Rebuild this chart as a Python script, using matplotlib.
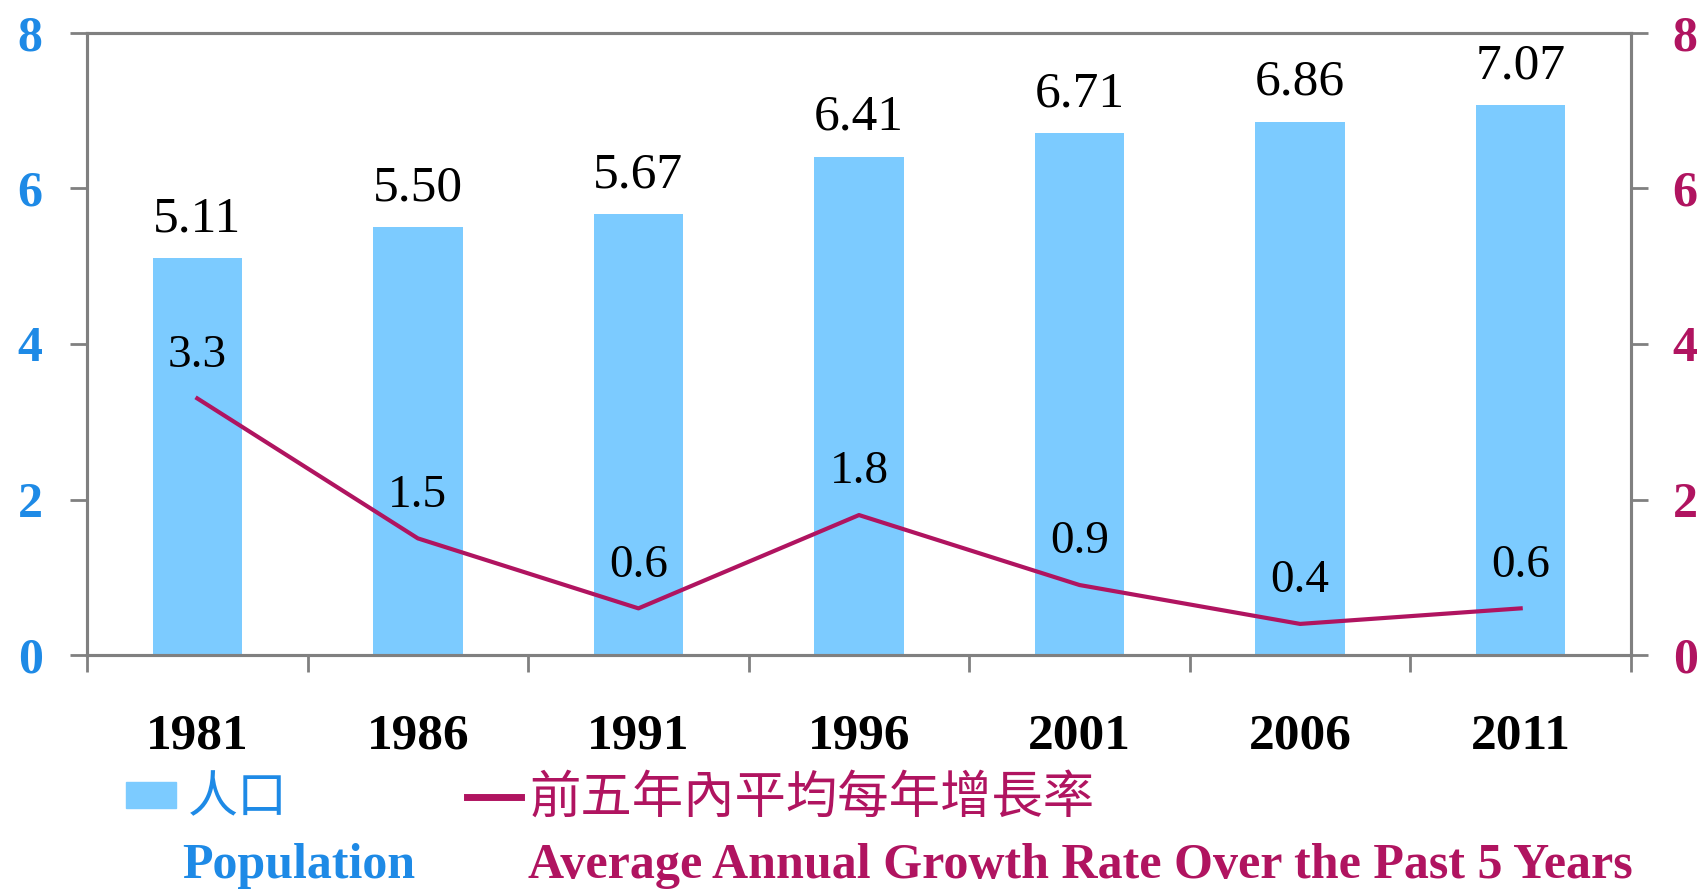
import numpy as np
import matplotlib.pyplot as plt
from matplotlib.patches import Rectangle
from matplotlib.lines import Line2D

years = ['1981', '1986', '1991', '1996', '2001', '2006', '2011']
population = [5.11, 5.50, 5.67, 6.41, 6.71, 6.86, 7.07]
growth = [3.3, 1.5, 0.6, 1.8, 0.9, 0.4, 0.6]
yticks = [0, 2, 4, 6, 8]

bar_col = '#7CCBFF'
line_col = '#B01460'
blue_txt = '#1E8AE6'
grey = '#808080'
serif = ['Liberation Serif', 'DejaVu Serif']
cjk = ['Noto Sans CJK TC', 'DejaVu Sans']

fig = plt.figure(figsize=(17.03, 8.89), dpi=100)
ax = fig.add_axes([0.0511, 0.2632, 0.9066, 0.6997])
ax2 = ax.twinx()

x = np.arange(len(years))
bars = ax.bar(x, population, width=0.405, color=bar_col, zorder=2)
ax2.plot(x, growth, color=line_col, lw=3, zorder=3)

for xi, v in zip(x, population):
    ax.annotate(f'{v:.2f}', (xi, v), xytext=(0, 28), textcoords='offset points',
                ha='center', va='center', fontsize=37, family=serif, color='black')
for xi, v in zip(x, growth):
    ax2.annotate(f'{v:.1f}', (xi, v), xytext=(0, 31), textcoords='offset points',
                 ha='center', va='center', fontsize=34, family=serif, color='black')

ax.set_xlim(-0.5, len(years) - 0.5)
ax.set_ylim(0, 8)
ax2.set_ylim(0, 8)
ax.set_yticks(yticks)
ax2.set_yticks(yticks)
ax.set_yticklabels([str(t) for t in yticks], fontsize=36, family=serif,
                   fontweight='bold', color=blue_txt)
ax2.set_yticklabels([str(t) for t in yticks], fontsize=36, family=serif,
                    fontweight='bold', color=line_col)

ax.set_xticks(x)
ax.set_xticklabels(years, fontsize=37, family=serif, fontweight='bold')
ax.set_xticks(np.arange(-0.5, len(years)), minor=True)
ax.tick_params(axis='x', which='major', length=0, pad=42)
ax.tick_params(axis='x', which='minor', length=12, width=2, color=grey, direction='out')
ax.tick_params(axis='y', length=12, width=2, color=grey, direction='out', pad=20)
ax2.tick_params(axis='y', length=12, width=2, color=grey, direction='out', pad=18)

for a in (ax, ax2):
    for s in a.spines.values():
        s.set_color(grey)
        s.set_linewidth(2.2)

# legend
fig.patches.append(Rectangle((126 / 1703, 1 - 808 / 889), 50 / 1703, 26 / 889,
                             transform=fig.transFigure, color=bar_col))
fig.text(188 / 1703, 1 - 798 / 889, '人口', fontsize=36, family=cjk,
         color=blue_txt, va='center', ha='left')
fig.lines.append(Line2D([467 / 1703, 521 / 1703], [1 - 797 / 889, 1 - 797 / 889],
                        transform=fig.transFigure, color=line_col, lw=5))
fig.text(530 / 1703, 1 - 798 / 889, '前五年內平均每年增長率', fontsize=37, family=cjk,
         color=line_col, va='center', ha='left')
fig.text(182 / 1703, 1 - 866 / 889, 'Population', fontsize=36, family=serif,
         fontweight='bold', color=blue_txt, va='center', ha='left')
fig.text(528 / 1703, 1 - 866 / 889, 'Average Annual Growth Rate Over the Past 5 Years',
         fontsize=36, family=serif, fontweight='bold', color=line_col,
         va='center', ha='left')

fig.savefig('out.png', dpi=100)
